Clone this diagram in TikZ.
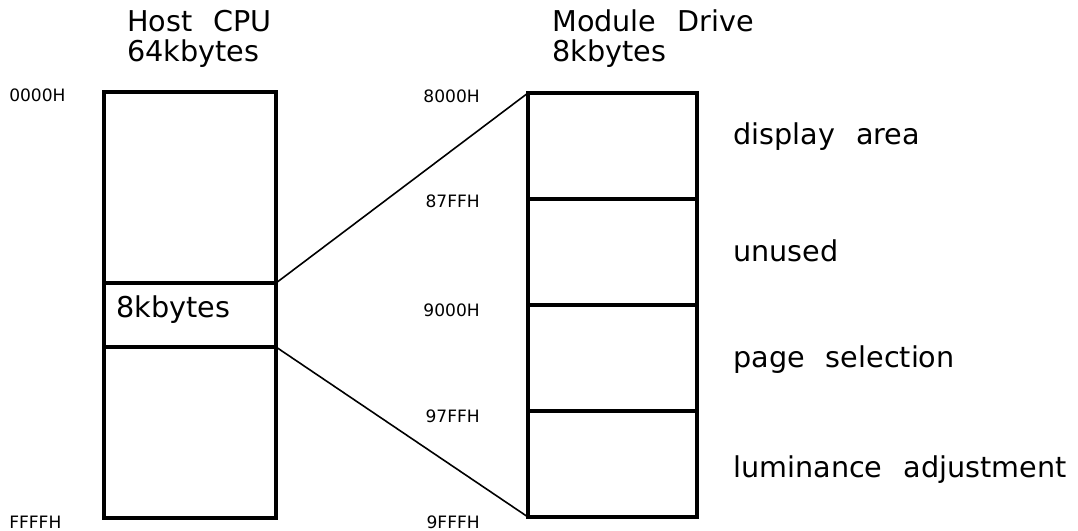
\documentclass[tikz,border=0pt]{standalone}
\usepackage{fontspec}
\setmainfont{DejaVu Sans}[WordSpace=2.3]
\usetikzlibrary{positioning}

\tikzset{
  cell/.style={draw, line width=2.6pt, inner sep=0pt, outer sep=0pt, anchor=north west},
  link/.style={line width=1.2pt},
  big/.style={font=\fontsize{21.5}{25}\selectfont, inner sep=0pt},
  addr/.style={font=\fontsize{12.8}{14}\selectfont, inner sep=0pt},
}

\begin{document}
\begin{tikzpicture}[x=0.75pt, y=-0.75pt]
      \useasboundingbox (0,0) rectangle (1078,531);
      % host memory
      \node[cell, minimum width=129pt, minimum height=143.25pt] (hostA) at (104,92) {};
      \node[cell, minimum width=129pt, minimum height=48pt, below=0pt of hostA] (hostB) {};
      \node[cell, minimum width=129pt, minimum height=128.25pt, below=0pt of hostB] (hostC) {};
      % module memory
      \node[cell, minimum width=126.75pt, minimum height=79.5pt] (drvA) at (528,93) {};
      \node[cell, minimum width=126.75pt, minimum height=79.5pt, below=0pt of drvA] (drvB) {};
      \node[cell, minimum width=126.75pt, minimum height=79.5pt, below=0pt of drvB] (drvC) {};
      \node[cell, minimum width=126.75pt, minimum height=79.5pt, below=0pt of drvC] (drvD) {};
      \draw[link] (hostA.south east) -- (drvA.north west);
      \draw[link] (hostB.south east) -- (drvD.south west);
      % titles
      \node[big, anchor=base west] (hostT) at (127,32) {Host CPU};
      \node[big, anchor=base west] (hostS) at (127,62) {64kbytes};
      \node[big, anchor=base west] (drvT) at (552,32) {Module Drive};
      \node[big, anchor=base west] (drvS) at (552,62) {8kbytes};
      \node[big, anchor=base west] (win) at (116,317) {8kbytes};
      % areas
      \node[big, anchor=base west] (dispL) at (733,145) {display area};
      \node[big, anchor=base west] (unusL) at (733,262) {unused};
      \node[big, anchor=base west] (pageL) at (733,367) {page selection};
      \node[big, anchor=base west] (lumL) at (733,477) {luminance adjustment};
      % addresses
      \node[addr, anchor=base west] (a0) at (9,102) {0000H};
      \node[addr, anchor=base west] (a1) at (9,528) {FFFFH};
      \node[addr, anchor=base east] (b0) at (480,103) {8000H};
      \node[addr, anchor=base east] (b1) at (480,208) {87FFH};
      \node[addr, anchor=base east] (b2) at (480,316) {9000H};
      \node[addr, anchor=base east] (b3) at (480,422) {97FFH};
      \node[addr, anchor=base east] (b4) at (480,528) {9FFFH};
\end{tikzpicture}
\end{document}
